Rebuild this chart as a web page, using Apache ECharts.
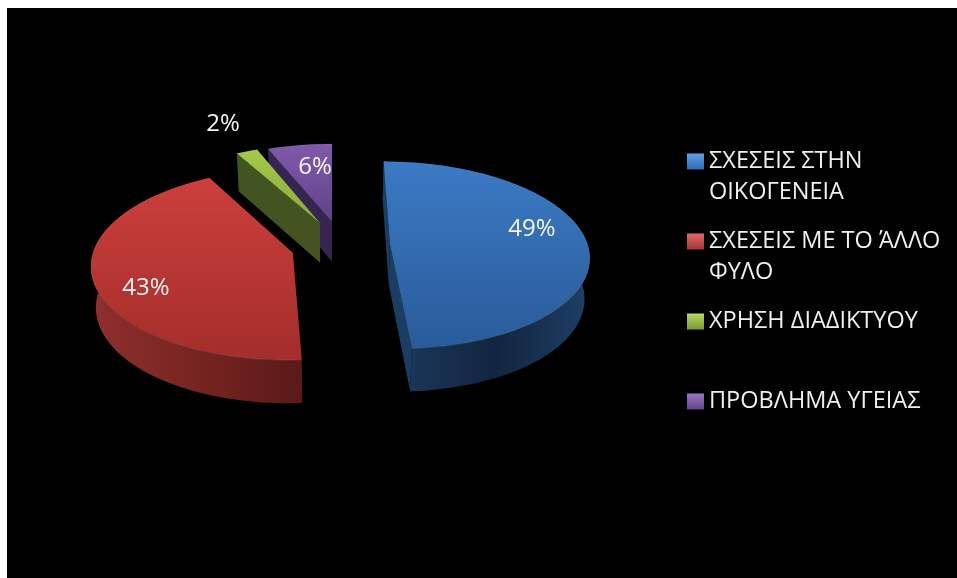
<!DOCTYPE html>
<html>
<head>
<meta charset="utf-8">
<style>
html, body { margin: 0; padding: 0; background: #fff; }
#chart { position: absolute; left: 0; top: 0; width: 957px; height: 578px; }
</style>
<script src="https://cdn.jsdelivr.net/npm/echarts@6/dist/echarts.min.js"></script>
</head>
<body>
<div id="chart"></div>
<script>
const categories = [ 'ΣΧΕΣΕΙΣ ΣΤΗΝ ΟΙΚΟΓΕΝΕΙΑ', 'ΣΧΕΣΕΙΣ ΜΕ ΤΟ ΆΛΛΟ ΦΥΛΟ', 'ΧΡΗΣΗ ΔΙΑΔΙΚΤΥΟΥ', 'ΠΡΟΒΛΗΜΑ ΥΓΕΙΑΣ' ];
const legendLines = [
	[ 'ΣΧΕΣΕΙΣ ΣΤΗΝ', 'ΟΙΚΟΓΕΝΕΙΑ' ],
	[ 'ΣΧΕΣΕΙΣ ΜΕ ΤΟ ΆΛΛΟ', 'ΦΥΛΟ' ],
	[ 'ΧΡΗΣΗ ΔΙΑΔΙΚΤΥΟΥ', ' ' ],
	[ 'ΠΡΟΒΛΗΜΑ ΥΓΕΙΑΣ', ' ' ]
];
const values = [ 49, 43, 2, 6 ];

// look of each slice: top face gradient, rim gradient stops, cut face
const topColors = [ [ '#3c7ac4', '#295b99' ], [ '#cc3f3c', '#a32e2b' ], [ '#a2c94a', '#8aab3c' ], [ '#8059ac', '#5f4385' ] ];
const rimColors = [ [ '#1c3b60', '#12253f', '#1e3f66' ], [ '#8f302d', '#74231f', '#5a1a18' ], [ '#42541f', '#42541f', '#42541f' ], [ '#35254f', '#35254f', '#35254f' ] ];
const cutColors = [ '#1c3d63', '#5a1a18', '#42541f', '#35254f' ];
const legendColors = [ [ '#5fa0e8', '#2f6bb0' ], [ '#e06a66', '#a33230' ], [ '#b9d866', '#7c9a34' ], [ '#9a78c4', '#5f4385' ] ];

// how far each slice is pulled out of the pie, in radii (right, towards viewer)
const explode = [ [ 0.293, -0.065 ], [ -0.196, 0.03 ], [ -0.063, -0.3 ], [ 0, -0.31 ] ];
const labelPos = [ [ 532, 229 ], [ 146, 288 ], [ 223, 124 ], [ 315, 167 ] ];
const drawOrder = [ 3, 2, 1, 0 ];

// perspective of the pie plane
const vanishX = 332;
const vanishY = -530;
const scaleY = 780;
const scaleX = 199;
const perspective = 0.12;
const depth = 40.5;
const wallShrink = 0.98;

const project = ( a, b, isBottom ) => {
	const q = 1 - perspective * b;
	const x = a * scaleX / q;
	const y = vanishY + scaleY / q;
	return isBottom ? [ vanishX + x * wallShrink, y + depth / Math.sqrt( q ) ] : [ vanishX + x, y ];
};

const total = values.reduce( ( sum, v ) => sum + v, 0 );
const startAngles = values.map( ( v, i ) => values.slice( 0, i ).reduce( ( sum, w ) => sum + w, 0 ) / total * 2 * Math.PI );

const renderSlice = ( idx ) => () => {
	const [ a0, b0 ] = explode[ idx ];
	const start = startAngles[ idx ];
	const end = start + values[ idx ] / total * 2 * Math.PI;
	const steps = Math.max( 8, Math.round( ( end - start ) / 0.03 ) );
	const rimTop = [];
	const rimBottom = [];
	for ( let i = 0; i <= steps; i++ ) {
		const t = start + ( end - start ) * i / steps;
		rimTop.push( project( a0 + Math.sin( t ), b0 - Math.cos( t ), false ) );
		rimBottom.push( project( a0 + Math.sin( t ), b0 - Math.cos( t ), true ) );
	}
	const hub = project( a0, b0, false );
	const hubBottom = project( a0, b0, true );
	const middle = rimTop[ Math.round( steps / 2 ) ];
	const children = [];

	children.push( {
		type: 'polygon',
		shape: { points: rimTop.concat( rimBottom.slice().reverse() ) },
		style: {
			fill: new echarts.graphic.LinearGradient( 0, 0, 1, 0, [
				{ offset: 0, color: rimColors[ idx ][ 0 ] },
				{ offset: 0.55, color: rimColors[ idx ][ 1 ] },
				{ offset: 1, color: rimColors[ idx ][ 2 ] }
			] )
		}
	} );

	// cut faces, only those turned to the viewer
	[ 0, steps ].forEach( ( k ) => {
		const ex = rimTop[ k ][ 0 ] - hub[ 0 ];
		const ey = rimTop[ k ][ 1 ] - hub[ 1 ];
		const down = ex * ( hubBottom[ 1 ] - hub[ 1 ] ) - ey * ( hubBottom[ 0 ] - hub[ 0 ] );
		const inside = ex * ( middle[ 1 ] - hub[ 1 ] ) - ey * ( middle[ 0 ] - hub[ 0 ] );
		if ( down * inside < 0 ) {
			children.push( {
				type: 'polygon',
				shape: { points: [ hub, rimTop[ k ], rimBottom[ k ], hubBottom ] },
				style: { fill: cutColors[ idx ] }
			} );
		}
	} );

	children.push( {
		type: 'polygon',
		shape: { points: [ hub ].concat( rimTop ) },
		style: {
			fill: new echarts.graphic.LinearGradient( 0, 0, 0, 1, [
				{ offset: 0, color: topColors[ idx ][ 0 ] },
				{ offset: 1, color: topColors[ idx ][ 1 ] }
			] )
		}
	} );
	children.push( {
		type: 'polyline',
		shape: { points: rimTop },
		style: { fill: null, stroke: 'rgba(255,255,255,0.1)', lineWidth: 1 }
	} );
	children.push( {
		type: 'text',
		z2: 10,
		style: {
			text: values[ idx ] + '%',
			x: labelPos[ idx ][ 0 ],
			y: labelPos[ idx ][ 1 ],
			align: 'center',
			verticalAlign: 'middle',
			fill: '#f4f4f4',
			font: '24px "Open Sans"'
		}
	} );
	return { type: 'group', children: children };
};

const chart = echarts.init( document.getElementById( 'chart' ), null, { renderer: 'canvas' } );
chart.setOption( {
	animation: false,
	backgroundColor: '#ffffff',
	graphic: [ {
		type: 'rect',
		silent: true,
		shape: { x: 7, y: 8, width: 950, height: 570 },
		style: { fill: '#000000' }
	} ],
	legend: {
		orient: 'vertical',
		left: 687,
		top: 115,
		padding: 0,
		data: categories,
		icon: 'rect',
		itemWidth: 17,
		itemHeight: 16,
		itemGap: -13,
		selectedMode: false,
		// leading blank line keeps the marker level with the first row of the name
		formatter: ( name ) => '\n' + legendLines[ categories.indexOf( name ) ].join( '\n' ),
		textStyle: { color: '#efefef', fontFamily: 'Open Sans', fontSize: 23.5, lineHeight: 31 }
	},
	series: drawOrder.map( ( idx ) => ( {
		type: 'custom',
		name: categories[ idx ],
		coordinateSystem: 'none',
		silent: true,
		itemStyle: {
			color: new echarts.graphic.LinearGradient( 0, 0, 0, 1, [
				{ offset: 0, color: legendColors[ idx ][ 0 ] },
				{ offset: 1, color: legendColors[ idx ][ 1 ] }
			] )
		},
		data: [ values[ idx ] ],
		renderItem: renderSlice( idx )
	} ) )
} );
</script>
</body>
</html>
